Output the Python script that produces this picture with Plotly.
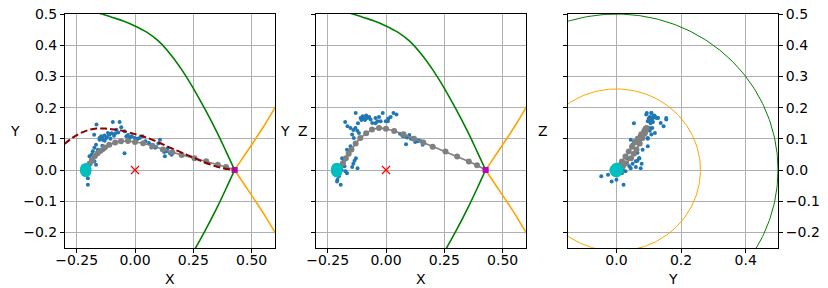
import numpy as np
import plotly.graph_objects as go

# ---------------- data ----------------
# gray trajectory (3D)
traj_x = [-0.205, -0.195, -0.185, -0.172, -0.16, -0.148, -0.13, -0.11, -0.085, -0.06, -0.03,
          0.0, 0.035, 0.075, 0.12, 0.16, 0.2, 0.255, 0.305, 0.355, 0.39, 0.427]
traj_y = [0.005, 0.02, 0.03, 0.045, 0.054, 0.062, 0.072, 0.081, 0.088, 0.092, 0.093,
          0.090, 0.086, 0.077, 0.066, 0.057, 0.048, 0.038, 0.028, 0.017, 0.010, 0.0]
traj_z = [0.005, 0.012, 0.022, 0.038, 0.052, 0.066, 0.085, 0.103, 0.118, 0.130, 0.135,
          0.132, 0.125, 0.115, 0.100, 0.088, 0.075, 0.059, 0.043, 0.027, 0.015, 0.0]

# blue scattered samples (3D)
pts_x = [-0.165, -0.095, -0.066, -0.080, -0.059, -0.175, -0.152, -0.145, -0.131, -0.123,
         -0.116, -0.109, -0.130, -0.138, -0.152, -0.045, -0.037, -0.023, -0.014, -0.001,
         0.008, 0.020, 0.032, 0.045, 0.060, 0.075, 0.107, 0.086, 0.115, 0.128,
         0.135, 0.150, 0.157, -0.045, -0.167, -0.174, -0.159, -0.181, -0.195, -0.188,
         -0.174, -0.167, -0.202, -0.210, -0.202, -0.202, -0.194, -0.208, -0.129, -0.122,
         -0.135, -0.140, -0.145, -0.100, -0.072, -0.090, 0.010, -0.030, 0.140, 0.100,
         -0.120, -0.105, -0.085, -0.140, 0.070, 0.090, 0.125, -0.185, -0.178, -0.190]
pts_y = [0.146, 0.154, 0.154, 0.129, 0.137, 0.113, 0.103, 0.108, 0.111, 0.103,
         0.119, 0.113, 0.094, 0.097, 0.097, 0.124, 0.108, 0.103, 0.108, 0.103,
         0.097, 0.103, 0.108, 0.092, 0.087, 0.081, 0.097, 0.071, 0.065, 0.044,
         0.060, 0.054, 0.049, 0.054, 0.081, 0.071, 0.065, 0.060, 0.044, 0.033,
         0.028, 0.017, 0.012, -0.015, -0.026, -0.047, 0.022, 0.000, 0.070, 0.075,
         0.065, 0.078, 0.060, 0.118, 0.120, 0.110, 0.100, 0.112, 0.070, 0.085,
         0.106, 0.100, 0.117, 0.102, 0.072, 0.074, 0.058, 0.050, 0.040, 0.020]
pts_z = [0.140, 0.167, 0.162, 0.167, 0.151, 0.154, 0.135, 0.114, 0.135, 0.126,
         0.119, 0.167, 0.183, 0.103, 0.076, 0.167, 0.156, 0.156, 0.183, 0.156,
         0.156, 0.170, 0.183, 0.178, 0.116, 0.108, 0.100, 0.083, 0.103, 0.097,
         0.092, 0.092, 0.081, 0.150, 0.065, 0.038, 0.055, 0.028, 0.006, 0.038,
         -0.004, -0.010, 0.006, -0.037, -0.015, -0.020, -0.047, -0.031, 0.038, 0.006,
         0.030, 0.020, 0.010, 0.172, 0.170, 0.160, 0.165, 0.170, 0.095, 0.112,
         0.150, 0.160, 0.175, 0.128, 0.110, 0.104, 0.090, 0.020, 0.012, 0.000]

# cyan cluster (3D)
start_x = [-0.211, -0.211, -0.211, -0.211, -0.211, -0.211, -0.211]
start_y = [0.0, 0.005, -0.005, 0.0, 0.0, 0.003, -0.003]
start_z = [0.0, 0.0, 0.0, 0.006, -0.006, 0.004, -0.004]

# end point and origin
end_pt = [0.427, 0.0, 0.0]
origin_pt = [0.0, 0.0, 0.0]

# dark red dashed reference curve (X-Y only)
ref_x = [-0.303, -0.25, -0.2, -0.165, -0.13, -0.1, -0.05, 0.0, 0.05, 0.1, 0.15, 0.2,
         0.25, 0.3, 0.35, 0.39, 0.427]
ref_y = [0.083, 0.112, 0.128, 0.133, 0.133, 0.131, 0.125, 0.115, 0.104, 0.089, 0.072,
         0.056, 0.040, 0.024, 0.011, 0.004, 0.0]

# green boundary profile (x, radius)
green_x = [-0.16, -0.141, -0.10, -0.05, 0.0, 0.05, 0.10, 0.15, 0.20, 0.25, 0.30, 0.35, 0.39, 0.427]
green_r = [0.504, 0.50, 0.49, 0.478, 0.462, 0.442, 0.414, 0.373, 0.322, 0.262, 0.195, 0.123, 0.06, 0.0]
# orange boundary profile (x, radius)
orange_x = [0.427, 0.47, 0.515, 0.56, 0.60, 0.62]
orange_r = [0.0, 0.048, 0.098, 0.150, 0.200, 0.224]

# circle radii in Y-Z plane
green_radius = 0.5
orange_radius = 0.26

# ticks
xticks12 = [-0.25, 0.0, 0.25, 0.5]
xticks12_text = ["\u22120.25", "0.00", "0.25", "0.50"]
xticks3 = [0.0, 0.2, 0.4]
xticks3_text = ["0.0", "0.2", "0.4"]
yticks = [-0.2, -0.1, 0.0, 0.1, 0.2, 0.3, 0.4, 0.5]
yticks_text = ["\u22120.2", "\u22120.1", "0.0", "0.1", "0.2", "0.3", "0.4", "0.5"]

# ---------------- figure ----------------
W, H = 828, 288
GREEN = "#008000"
ORANGE = "#FFA500"
GRAY = "#808080"
BLUE = "#1f77b4"
CYAN = "#00BFBF"
MAG = "#BF00BF"
FONT = "DejaVu Sans"

fig = go.Figure()

t = np.linspace(0, 2 * np.pi, 400)


def add_panel(xa, ya, hx, hy, profile):
    if profile:
        gx = np.array(green_x)
        gr = np.array(green_r)
        fig.add_trace(go.Scatter(x=np.concatenate([gx, gx[::-1]]), y=np.concatenate([gr, -gr[::-1]]),
                                 mode="lines", line=dict(color=GREEN, width=1.6, shape="spline"),
                                 xaxis=xa, yaxis=ya, showlegend=False, hoverinfo="skip"))
        ox = np.array(orange_x)
        orr = np.array(orange_r)
        fig.add_trace(go.Scatter(x=np.concatenate([ox[::-1], ox]), y=np.concatenate([orr[::-1], -orr]),
                                 mode="lines", line=dict(color=ORANGE, width=1.6, shape="spline"),
                                 xaxis=xa, yaxis=ya, showlegend=False, hoverinfo="skip"))
    else:
        fig.add_trace(go.Scatter(x=green_radius * np.cos(t), y=green_radius * np.sin(t), mode="lines",
                                 line=dict(color=GREEN, width=1.0), xaxis=xa, yaxis=ya,
                                 showlegend=False, hoverinfo="skip"))
        fig.add_trace(go.Scatter(x=orange_radius * np.cos(t), y=orange_radius * np.sin(t), mode="lines",
                                 line=dict(color=ORANGE, width=1.0), xaxis=xa, yaxis=ya,
                                 showlegend=False, hoverinfo="skip"))
    fig.add_trace(go.Scatter(x=hx(pts_x, pts_y, pts_z), y=hy(pts_x, pts_y, pts_z), mode="markers",
                             marker=dict(color=BLUE, size=4, line=dict(width=0)),
                             xaxis=xa, yaxis=ya, showlegend=False))
    fig.add_trace(go.Scatter(x=hx(traj_x, traj_y, traj_z), y=hy(traj_x, traj_y, traj_z), mode="lines+markers",
                             line=dict(color=GRAY, width=1.6), marker=dict(color=GRAY, size=6),
                             xaxis=xa, yaxis=ya, showlegend=False))
    fig.add_trace(go.Scatter(x=[hx(*[[v] for v in origin_pt])[0]], y=[hy(*[[v] for v in origin_pt])[0]],
                             mode="markers", marker=dict(symbol="x-thin-open", color="red", size=8,
                                                         line=dict(color="red", width=1.2)),
                             xaxis=xa, yaxis=ya, showlegend=False))
    fig.add_trace(go.Scatter(x=[hx(*[[v] for v in end_pt])[0]], y=[hy(*[[v] for v in end_pt])[0]],
                             mode="markers", marker=dict(color=MAG, size=6, symbol="square"),
                             xaxis=xa, yaxis=ya, showlegend=False))
    fig.add_trace(go.Scatter(x=hx(start_x, start_y, start_z), y=hy(start_x, start_y, start_z), mode="markers",
                             marker=dict(color=CYAN, size=11, line=dict(width=0)),
                             xaxis=xa, yaxis=ya, showlegend=False))


# Panel 1: X-Y
add_panel("x", "y", lambda a, b, c: list(a), lambda a, b, c: list(b), True)
fig.add_trace(go.Scatter(x=ref_x, y=ref_y, mode="lines",
                         line=dict(color="#8B0000", width=2, dash="7px,3px", shape="spline"),
                         xaxis="x", yaxis="y", showlegend=False))
# Panel 2: X-Z
add_panel("x2", "y2", lambda a, b, c: list(a), lambda a, b, c: list(c), True)
# Panel 3: Y-Z
add_panel("x3", "y3", lambda a, b, c: list(b), lambda a, b, c: list(c), False)


def dom(a, b):
    return [a / W, b / W]


ydom = [1 - 248 / H, 1 - 14 / H]
YR = [-0.25, 0.5002]
axis_common = dict(showline=True, linecolor="black", linewidth=1, mirror=True,
                   showgrid=True, gridcolor="#b0b0b0", gridwidth=1, zeroline=False,
                   ticks="outside", ticklen=4, tickwidth=1, tickcolor="black",
                   ticklabeloverflow="allow",
                   tickfont=dict(family=FONT, size=14, color="black"), automargin=False)

fig.update_layout(
    width=W, height=H, margin=dict(l=0, r=0, t=0, b=0),
    paper_bgcolor="white", plot_bgcolor="white",
    font=dict(family=FONT, size=14, color="black"),
    hovermode=False,
    xaxis=dict(domain=dom(65, 275), range=[-0.3, 0.6], tickvals=xticks12, ticktext=xticks12_text,
               anchor="y", ticklabelstandoff=-5, **axis_common),
    yaxis=dict(domain=ydom, range=YR, tickvals=yticks, ticktext=yticks_text,
               anchor="x", **axis_common),
    xaxis2=dict(domain=dom(316, 526), range=[-0.3, 0.6], tickvals=xticks12, ticktext=xticks12_text,
                anchor="y2", ticklabelstandoff=-5, **axis_common),
    yaxis2=dict(domain=ydom, range=YR, tickvals=yticks, showticklabels=False,
                anchor="x2", **axis_common),
    xaxis3=dict(domain=dom(568, 778), range=[-0.15, 0.5], tickvals=xticks3, ticktext=xticks3_text,
                anchor="y3", ticklabelstandoff=-5, **axis_common),
    yaxis3=dict(domain=ydom, range=YR, tickvals=yticks, ticktext=yticks_text,
                anchor="x3", side="right", **{k: v for k, v in axis_common.items() if k != "mirror"},
                mirror="ticks"),
)

labels = [("Y", 15, 131), ("Y", 285, 131), ("Z", 303, 131), ("Z", 543, 131),
          ("X", 170, 279), ("X", 421, 279), ("Y", 673, 279)]
for txt, px, py in labels:
    fig.add_annotation(text=txt, x=px / W, y=1 - py / H, xref="paper", yref="paper",
                       showarrow=False, xanchor="center", yanchor="middle",
                       font=dict(family=FONT, size=14, color="black"))

fig.write_html("out.html", config={"displayModeBar": False},
               post_script="document.body.style.margin='0px';document.body.style.overflow='hidden';")
